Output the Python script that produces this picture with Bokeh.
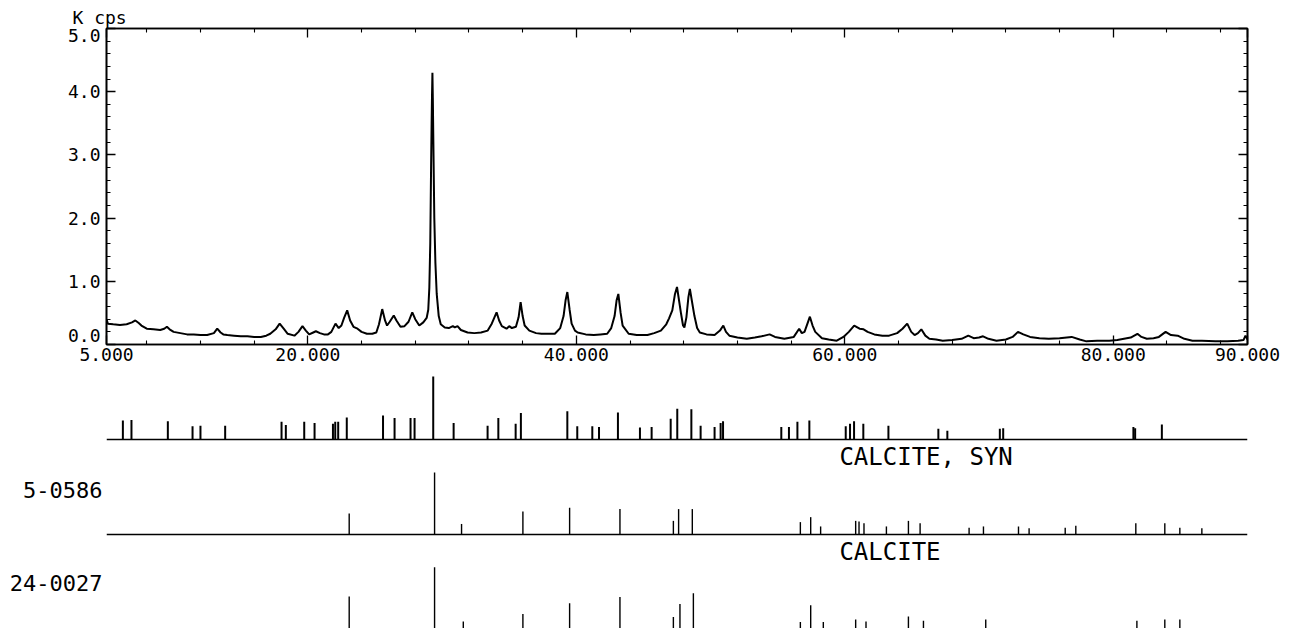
from bokeh.plotting import figure
from bokeh.models import (Range1d, LinearAxis, FixedTicker, PrintfTickFormatter,
                          Label, Span, ColumnDataSource)
from bokeh.layouts import column
from bokeh.embed import file_html
from bokeh.resources import INLINE

# ---------------- data ----------------
# measured XRD pattern (2-theta, K cps)
scan_2theta = [5.0, 5.1, 5.5, 6.0, 6.5, 6.9, 7.15, 7.4, 7.6, 8.0, 8.5, 9.0, 9.3, 9.5, 9.7,
               10.0, 10.5, 11.0, 11.5, 12.0, 12.5, 13.0, 13.25, 13.5, 13.7, 14.0, 14.5, 15.0,
               15.5, 16.0, 16.5, 16.9, 17.2, 17.6, 17.9, 18.2, 18.5, 19.0, 19.3, 19.6, 19.85,
               20.1, 20.4, 20.6, 20.9, 21.2, 21.5, 21.75, 22.06, 22.3, 22.5, 22.7, 22.93, 23.15,
               23.4, 23.7, 24.0, 24.4, 24.8, 25.1, 25.3, 25.54, 25.75, 25.9, 26.1, 26.4, 26.6,
               26.9, 27.2, 27.5, 27.78, 28.0, 28.3, 28.6, 28.85, 28.97, 29.05, 29.12, 29.18,
               29.22, 29.25, 29.28, 29.31, 29.35, 29.42, 29.5, 29.6, 29.75, 29.9, 30.2, 30.5,
               30.8, 30.95, 31.15, 31.4, 31.9, 32.4, 32.9, 33.4, 33.7, 33.9, 34.06, 34.25, 34.45,
               34.8, 35.0, 35.2, 35.5, 35.7, 35.85, 36.0, 36.15, 36.5, 37.0, 37.4, 38.0, 38.4,
               38.8, 39.05, 39.2, 39.33, 39.5, 39.65, 39.9, 40.1, 40.7, 41.3, 41.8, 42.3, 42.6,
               42.85, 43.0, 43.13, 43.3, 43.45, 43.9, 44.5, 45.3, 45.8, 46.3, 46.7, 46.9, 47.15,
               47.35, 47.5, 47.65, 47.8, 47.95, 48.05, 48.2, 48.35, 48.46, 48.6, 48.8, 49.0,
               49.2, 49.7, 50.3, 50.7, 50.95, 51.15, 51.4, 52.0, 52.7, 53.3, 53.8, 54.4, 54.8,
               55.5, 56.2, 56.6, 56.8, 57.0, 57.25, 57.4, 57.6, 57.8, 58.3, 58.8, 59.4, 59.9,
               60.3, 60.7, 61.1, 61.4, 61.7, 62.2, 62.8, 63.3, 63.9, 64.3, 64.65, 64.95, 65.2,
               65.45, 65.7, 66.0, 66.3, 66.8, 67.3, 68.0, 68.7, 69.2, 69.6, 70.0, 70.3, 70.7,
               71.3, 72.0, 72.5, 72.9, 73.3, 73.8, 74.5, 75.2, 76.0, 76.9, 77.5, 78.0, 78.8,
               79.7, 80.3, 80.8, 81.3, 81.8, 82.1, 82.5, 83.0, 83.4, 83.9, 84.3, 84.8, 85.3,
               85.9, 86.6, 87.6, 88.5, 89.3, 89.7, 89.85, 90.0]
scan_kcps = [0.40, 0.33, 0.32, 0.31, 0.32, 0.35, 0.38, 0.34, 0.30, 0.25, 0.24, 0.23, 0.25, 0.28, 0.24,
             0.20, 0.18, 0.16, 0.16, 0.15, 0.15, 0.18, 0.25, 0.19, 0.16, 0.15, 0.14, 0.13,
             0.13, 0.12, 0.12, 0.14, 0.17, 0.24, 0.33, 0.25, 0.17, 0.14, 0.20, 0.29, 0.22,
             0.16, 0.19, 0.21, 0.18, 0.16, 0.16, 0.20, 0.33, 0.26, 0.30, 0.42, 0.54, 0.38,
             0.28, 0.25, 0.20, 0.17, 0.17, 0.19, 0.32, 0.56, 0.38, 0.30, 0.36, 0.46, 0.38,
             0.28, 0.29, 0.36, 0.51, 0.40, 0.30, 0.35, 0.42, 0.55, 0.90, 1.60, 2.80,
             3.50, 3.95, 4.30, 3.90, 3.20, 2.00, 1.30, 0.80, 0.45, 0.32, 0.27, 0.26,
             0.29, 0.27, 0.29, 0.23, 0.19, 0.18, 0.19, 0.22, 0.33, 0.43, 0.51, 0.38, 0.29,
             0.25, 0.29, 0.26, 0.28, 0.43, 0.67, 0.45, 0.30, 0.22, 0.18, 0.17, 0.17, 0.17,
             0.26, 0.45, 0.70, 0.83, 0.55, 0.33, 0.22, 0.19, 0.16, 0.15, 0.16, 0.17, 0.26,
             0.45, 0.70, 0.80, 0.50, 0.30, 0.17, 0.15, 0.15, 0.18, 0.22, 0.32, 0.41, 0.54,
             0.80, 0.91, 0.70, 0.49, 0.30, 0.27, 0.43, 0.75, 0.88, 0.70, 0.45, 0.26,
             0.19, 0.16, 0.15, 0.22, 0.30, 0.20, 0.14, 0.11, 0.09, 0.11, 0.13, 0.16, 0.12,
             0.09, 0.12, 0.25, 0.18, 0.20, 0.35, 0.44, 0.30, 0.20, 0.10, 0.08, 0.06, 0.12,
             0.20, 0.30, 0.25, 0.24, 0.20, 0.16, 0.14, 0.14, 0.18, 0.25, 0.33, 0.20, 0.15,
             0.18, 0.24, 0.14, 0.09, 0.08, 0.06, 0.07, 0.09, 0.14, 0.10, 0.11, 0.13, 0.09,
             0.06, 0.08, 0.12, 0.20, 0.16, 0.12, 0.10, 0.09, 0.10, 0.12, 0.08, 0.05, 0.06,
             0.06, 0.07, 0.09, 0.11, 0.17, 0.12, 0.09, 0.10, 0.12, 0.20, 0.15, 0.14, 0.09,
             0.06, 0.06, 0.05, 0.05, 0.06, 0.07, 0.14, 0.08]

# peak search result (sticks, relative height %)
peaks_2theta = [6.22, 6.86, 9.57, 11.41, 12.0, 13.84, 18.04, 18.36, 19.73, 20.5, 21.87, 22.04,
                22.26, 22.9, 25.6, 26.46, 27.65, 27.95, 29.34, 30.86, 33.39, 34.19, 35.48, 35.87,
                39.33, 40.07, 41.19, 41.69, 43.1, 44.74, 45.61, 47.03, 47.52, 48.57, 49.26, 50.3,
                50.75, 50.93, 55.27, 55.84, 56.47, 57.36, 60.07, 60.39, 60.69, 61.38, 63.25,
                66.97, 67.64, 71.55, 71.8, 81.5, 81.63, 83.62]
peaks_height = [30, 31, 29, 21, 22, 22, 28, 23, 28, 26, 25, 28,
                28, 35, 38, 34, 34, 34, 100, 26, 22, 34, 25, 42,
                45, 21, 21, 20, 43, 19, 20, 33, 49, 48, 22, 20,
                26, 29, 20, 20, 28, 30, 21, 25, 29, 25, 22,
                17, 14, 17, 18, 20, 18, 24]

# PDF card 5-0586 CALCITE, SYN
card1_code = "5-0586"
card1_name = "CALCITE, SYN"
card1_2theta = [23.08, 29.44, 31.45, 36.02, 39.5, 43.25, 47.23, 47.62, 48.64, 56.69, 57.46, 58.2,
                60.81, 61.06, 61.43, 63.1, 64.74, 65.61, 69.26, 70.33, 72.94, 73.73, 76.42,
                77.21, 81.68, 83.84, 84.96, 86.6]
card1_height = [34, 100, 17, 37, 43, 41, 22, 41, 41, 20, 28, 13,
                22, 21, 18, 13, 22, 18, 11, 13, 13, 10, 11,
                14, 18, 18, 11, 10]

# PDF card 24-0027 CALCITE
card2_code = "24-0027"
card2_name = "CALCITE"
card2_2theta = [23.08, 29.44, 31.58, 36.02, 39.5, 43.25, 47.23, 47.72, 48.72, 56.69, 57.46, 58.4,
                60.81, 61.58, 64.74, 65.86, 70.5, 81.76, 83.84, 84.96]
card2_height = [53, 100, 13, 25, 42, 52, 20, 41, 58, 12, 39, 12,
                16, 13, 21, 14, 16, 14, 16, 16]

x_major_ticks = [5, 20, 40, 60, 80, 90]
x_minor_ticks = [8, 12, 16, 24, 28, 32, 36, 44, 48, 52, 56, 64, 68, 72, 76, 84, 88]
y_major_ticks = [0, 1, 2, 3, 4, 5]
y_minor_ticks = [0.2, 0.4, 0.6, 0.8, 1.2, 1.4, 1.6, 1.8, 2.2, 2.4, 2.6, 2.8,
                 3.2, 3.4, 3.6, 3.8, 4.2, 4.4, 4.6, 4.8]
y_tick_labels = ["0.0", "1.0", "2.0", "3.0", "4.0", "5.0"]
# the instrument prints the end labels inside the axis span
y_label_pos = [0.14, 1.0, 2.0, 3.0, 4.0, 4.89]
y_unit_label = "K cps"

# ---------------- layout / style ----------------
FONT = "DejaVu Sans Mono"
W = 1298
BL, BR = 106, 51
xr = Range1d(5, 90)


def style_axis(ax, ticker, labels=True):
    ax.ticker = ticker
    ax.major_tick_in = 9
    ax.major_tick_out = 0
    ax.minor_tick_in = 4
    ax.minor_tick_out = 0
    ax.axis_line_width = 1.6
    ax.axis_line_color = "black"
    ax.major_tick_line_width = 1.3
    ax.minor_tick_line_width = 1.1
    ax.major_tick_line_color = "black"
    ax.minor_tick_line_color = "black"
    if labels:
        ax.major_label_text_font = FONT
        ax.major_label_text_font_size = "18px"
        ax.major_label_text_color = "black"
    else:
        ax.major_label_overrides = {t: "" for t in list(ticker.ticks)}
        ax.major_label_text_font_size = "1px"
        ax.major_label_standoff = 0


def label_only_axis(ticks, labels, size, standoff):
    ax = LinearAxis(ticker=FixedTicker(ticks=ticks),
                    major_label_overrides=dict(zip(ticks, labels)))
    ax.axis_line_color = None
    ax.major_tick_line_color = None
    ax.minor_tick_line_color = None
    ax.major_tick_out = 0
    ax.major_tick_in = 0
    ax.minor_tick_out = 0
    ax.minor_tick_in = 0
    ax.major_label_standoff = standoff
    ax.major_label_text_font = FONT
    ax.major_label_text_font_size = size
    ax.major_label_text_color = "black"
    return ax


# main scan figure
p = figure(width=W, height=372, x_range=xr, y_range=Range1d(0, 5),
           output_backend="svg", toolbar_location=None,
           min_border_left=BL, min_border_right=BR, min_border_top=28, min_border_bottom=28)
p.grid.visible = False
p.outline_line_color = "black"
p.outline_line_width = 1.6

xt = FixedTicker(ticks=x_major_ticks, minor_ticks=x_minor_ticks)
yt = FixedTicker(ticks=y_major_ticks, minor_ticks=y_minor_ticks)

style_axis(p.xaxis[0], xt)
p.xaxis[0].formatter = PrintfTickFormatter(format="%.3f")
p.xaxis[0].major_label_standoff = 3
style_axis(p.yaxis[0], yt, labels=False)
p.add_layout(label_only_axis(y_label_pos, y_tick_labels, "18px", 6), "left")

top_ax = LinearAxis()
style_axis(top_ax, xt, labels=False)
p.add_layout(top_ax, "above")
right_ax = LinearAxis()
style_axis(right_ax, yt, labels=False)
p.add_layout(right_ax, "right")

p.title.text = y_unit_label
p.title.align = "left"
p.title.offset = -34
p.title.standoff = 1
p.title.text_font = FONT
p.title.text_font_size = "18px"
p.title.text_font_style = "normal"
p.title.text_color = "black"

p.line(scan_2theta, scan_kcps, line_color="black", line_width=2.0)


def stick_fig(h, y0, y1):
    f = figure(width=W, height=h, x_range=xr, y_range=Range1d(y0, y1),
               output_backend="svg", toolbar_location=None,
               x_axis_location=None, y_axis_location=None,
               min_border_left=BL, min_border_right=BR, min_border_top=0, min_border_bottom=0)
    f.grid.visible = False
    f.outline_line_color = None
    return f


# peak list sticks
f1 = stick_fig(72, -7.94, 106.35)
f1.segment(x0="x", y0=0, x1="x", y1="h", line_color="black", line_width=2,
           source=ColumnDataSource(dict(x=peaks_2theta, h=peaks_height)))
f1.add_layout(Span(location=0, dimension="width", line_color="black", line_width=1.6))

# card 1
f2 = stick_fig(95, -8.06, 145.2)
f2.segment(x0="x", y0=0, x1="x", y1="h", line_color="black", line_width=1.4,
           source=ColumnDataSource(dict(x=card1_2theta, h=card1_height)))
f2.add_layout(Span(location=0, dimension="width", line_color="black", line_width=1.6))
f2.add_layout(Label(x=59.6, y=125.8, text=card1_name, text_font=FONT, text_font_size="24px",
                    text_color="black", text_baseline="middle", text_align="left"))
f2.add_layout(label_only_axis([72], [card1_code], "22px", 4), "left")

# card 2
f3 = stick_fig(89, 1.6, 144.5)
f3.segment(x0="x", y0=0, x1="x", y1="h", line_color="black", line_width=1.4,
           source=ColumnDataSource(dict(x=card2_2theta, h=card2_height)))
f3.add_layout(Label(x=59.6, y=124.4, text=card2_name, text_font=FONT, text_font_size="24px",
                    text_color="black", text_baseline="middle", text_align="left"))
f3.add_layout(label_only_axis([75], [card2_code], "22px", 4), "left")

layout = column(p, f1, f2, f3, spacing=0)
open("out.html", "w").write(file_html(layout, INLINE))
